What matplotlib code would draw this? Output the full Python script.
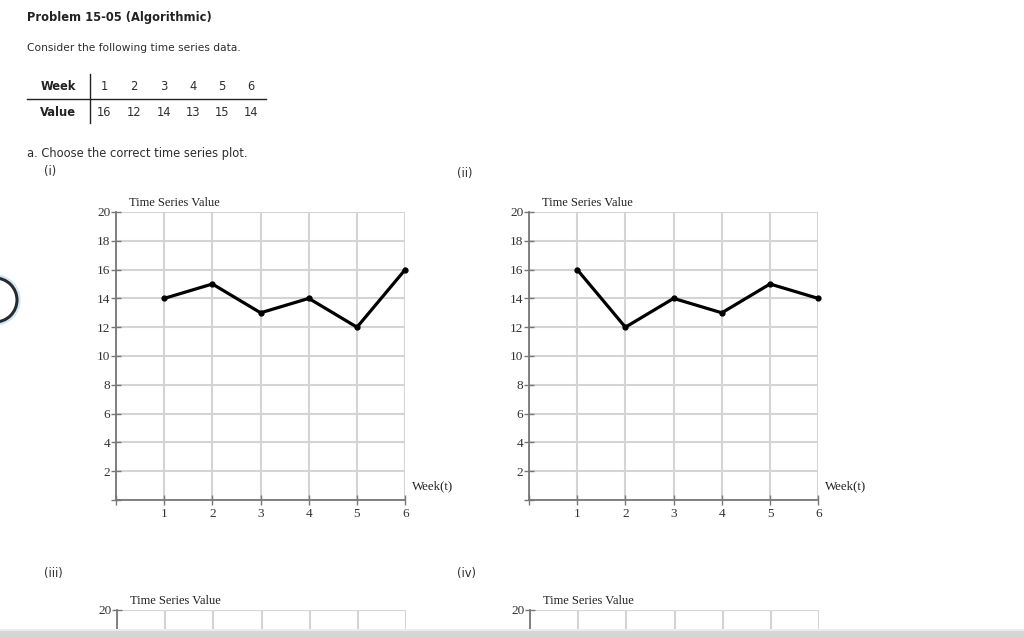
import matplotlib
matplotlib.use("Agg")
import matplotlib.pyplot as plt
from matplotlib.patches import Circle, Rectangle

# data from the table
weeks = [1, 2, 3, 4, 5, 6]
values = [16, 12, 14, 13, 15, 14]
# series drawn in the wrong option (i)
values_i = [14, 15, 13, 14, 12, 16]

W, H = 1024, 637
fig = plt.figure(figsize=(W / 100, H / 100), dpi=100)

# background layer in pixel units for the page text
bg = fig.add_axes([0, 0, 1, 1])
bg.set_xlim(0, W)
bg.set_ylim(H, 0)
bg.axis("off")

sans = "DejaVu Sans"
serif = "Liberation Serif"
txt_col = "#2e2e2e"
fs = 8.3

bg.text(27, 18, "Problem 15-05 (Algorithmic)", fontsize=fs, fontweight="bold",
        family=sans, color="#222222", va="center")
bg.text(27, 48, "Consider the following time series data.", fontsize=7.7,
        family=sans, color=txt_col, va="center")

# table
bg.text(76, 87, "Week", fontsize=fs, fontweight="bold", family=sans,
        color="#222222", ha="right", va="center")
bg.text(76, 112, "Value", fontsize=fs, fontweight="bold", family=sans,
        color="#222222", ha="right", va="center")
col_x = [104, 134, 164, 193, 222, 251]
for cx, w, v in zip(col_x, weeks, values):
    bg.text(cx, 87, str(w), fontsize=fs, family=sans, color=txt_col,
            ha="center", va="center")
    bg.text(cx, 112, str(v), fontsize=fs, family=sans, color=txt_col,
            ha="center", va="center")
bg.plot([90, 90], [74, 123], color="#222222", lw=1)
bg.plot([27, 266], [99, 99], color="#222222", lw=1)

bg.text(27, 153, "a. Choose the correct time series plot.", fontsize=fs,
        family=sans, color=txt_col, va="center")
bg.text(44, 171, "(i)", fontsize=fs, family=sans, color=txt_col, va="center")
bg.text(457, 174, "(ii)", fontsize=fs, family=sans, color=txt_col, va="center")
bg.text(44, 574, "(iii)", fontsize=fs, family=sans, color=txt_col, va="center")
bg.text(457, 574, "(iv)", fontsize=fs, family=sans, color=txt_col, va="center")

# radio button partly off screen
bg.add_patch(Circle((-5, 300), 24, fill=False, ec="#cfe8fb", lw=2.5))
bg.add_patch(Circle((-5, 300), 22, fill=False, ec="#2a2a2a", lw=2.2))


def make_plot(x0, y_top, series, full=True):
    # x0: pixel of week 0, y_top: pixel of value 20
    sx, sy = 48.2, 14.4
    left = x0 / W
    bottom = 1 - (y_top + 20 * sy) / H
    ax = fig.add_axes([left, bottom, 6 * sx / W, 20 * sy / H])
    ax.set_xlim(0, 6)
    ax.set_ylim(0, 20)
    ax.patch.set_alpha(0)
    ax.set_xticks(range(0, 7))
    ax.set_yticks(range(0, 21, 2))
    if full:
        ax.set_xticklabels([""] + [str(w) for w in weeks])
        ax.set_yticklabels([""] + [str(v) for v in range(2, 21, 2)])
    else:
        # only the top of these plots is on screen
        ax.set_xticklabels([""] * 7)
        ax.set_yticklabels([""] * 10 + ["20"])
    ax.grid(True, color="#d4d4d4", lw=1.5)
    ax.set_axisbelow(True)
    for s in ["top", "right"]:
        ax.spines[s].set_visible(False)
    for s in ["left", "bottom"]:
        ax.spines[s].set_color("#777777")
        ax.spines[s].set_linewidth(1.3)
    ax.tick_params(direction="inout", length=7, width=1, color="#777777",
                   labelsize=9.5, labelcolor="#333333", pad=0.5)
    ax.tick_params(axis="x", pad=2)
    for lab in ax.get_xticklabels() + ax.get_yticklabels():
        lab.set_family(serif)
    ax.text(0.28, 20.2, "Time Series Value", family=serif, fontsize=9,
            color="#222222", va="bottom")
    if full:
        ax.text(6.15, 0.95, "Week(t)", family=serif, fontsize=9.3,
                color="#222222", va="center")
    if series is not None:
        ax.plot(weeks, series, color="black", lw=2.3, marker="o", ms=3.5,
                clip_on=False, zorder=5)
    return ax


make_plot(116, 212, values_i)
make_plot(529, 212, values)
make_plot(117, 610, None, full=False)
make_plot(530, 610, None, full=False)

# bottom shade of the screenshot, on top of everything
fig.add_artist(Rectangle((0, 0), 1, 6 / H, transform=fig.transFigure,
                         color="#d6d6d6", lw=0, zorder=10))
fig.add_artist(Rectangle((0, 6 / H), 1, 2 / H, transform=fig.transFigure,
                         color="#ececec", lw=0, zorder=10))

fig.savefig("out.png", dpi=100)
